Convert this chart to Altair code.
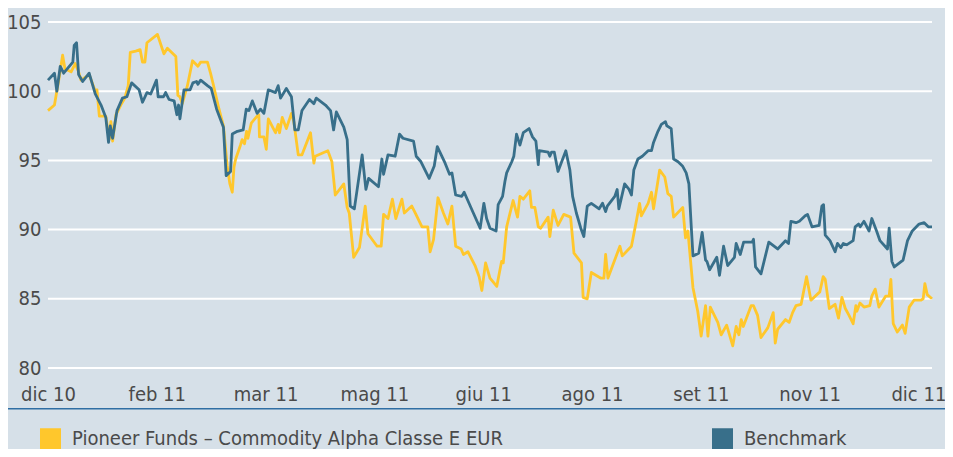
import altair as alt
import pandas as pd

FUND = "Pioneer Funds – Commodity Alpha Classe E EUR"
BENCH = "Benchmark"

month_labels = ["dic 10", "feb 11", "mar 11", "mag 11", "giu 11", "ago 11", "set 11", "nov 11", "dic 11"]
tick_step = 32
y_ticks = [80, 85, 90, 95, 100, 105]
x_start, x_end = 0, 260

bench_x = [0, 1.9, 2.6, 3.6, 4.6, 7.3, 7.7, 8.4, 9.0, 10.2, 12.1, 13.9, 15.6, 17.0, 17.8, 18.3, 19.0, 20.3, 21.9, 23.2,
           24.6, 26.8, 27.8, 29.1, 30.2, 31.9, 32.4, 34.0, 34.6, 35.6, 37.1, 37.9, 38.4, 38.8, 40.0, 41.8, 42.6, 43.7, 44.1, 44.9,
           46.9, 48.0, 49.6, 51.6, 52.4, 53.7, 54.2, 55.7, 57.4, 58.3, 59.1, 60.1, 61.5, 62.5, 63.5, 64.8, 66.9, 67.7, 68.4, 70.1,
           71.6, 72.6, 73.6, 74.7, 76.9, 78.2, 78.9, 81.6, 83.1, 84.0, 84.8, 87.0, 88.0, 88.9, 90.1, 92.4, 93.5, 94.3, 97.2, 98.2,
           98.7, 100.0, 102.1, 103.4, 104.4, 107.5, 108.3, 109.7, 112.1, 113.6, 114.5, 116.8, 118.1, 118.8, 119.9, 121.7, 122.4, 125.1, 127.1, 128.2,
           129.0, 130.0, 131.8, 132.4, 133.7, 134.4, 134.9, 136.4, 137.0, 137.8, 138.8, 139.8, 141.5, 142.5, 143.5, 144.2, 144.5, 147.1, 147.6, 148.1,
           148.9, 150.0, 152.3, 153.5, 154.3, 155.4, 156.7, 157.6, 158.6, 159.8, 162.1, 163.1, 164.0, 164.5, 166.7, 167.4, 167.9, 169.6, 170.9, 171.6,
           172.3, 173.5, 174.8, 176.5, 177.5, 178.1, 179.4, 180.4, 181.6, 182.0, 183.3, 184.0, 185.3, 186.6, 187.7, 188.5, 189.2, 189.7, 191.4, 192.4,
           193.4, 193.8, 194.6, 196.7, 197.5, 198.7, 199.9, 201.9, 202.4, 203.6, 204.6, 207.1, 207.5, 208.1, 209.7, 212.0, 214.6, 216.9, 217.8, 218.5,
           220.0, 221.0, 222.7, 223.4, 224.7, 226.8, 227.6, 228.1, 228.6, 230.0, 231.5, 232.2, 233.2, 233.9, 234.9, 236.8, 237.4, 238.4, 238.9, 240.0,
           241.5, 242.3, 243.7, 244.7, 246.9, 247.4, 248.2, 248.9, 251.5, 252.8, 254.2, 256.2, 257.7, 258.9, 260.0]
bench_y = [100.8, 101.3, 100.0, 101.8, 101.3, 102.1, 103.3, 103.5, 101.2, 100.7, 101.3, 99.8, 99.0, 98.1, 96.3, 97.5, 96.6, 98.6, 99.5, 99.6,
           100.6, 100.1, 99.2, 99.9, 99.8, 100.8, 99.6, 99.6, 99.9, 99.4, 99.3, 98.3, 99.0, 98.0, 100.1, 100.1, 100.6, 100.7, 100.5, 100.8,
           100.4, 100.2, 98.7, 97.4, 93.9, 94.2, 96.9, 97.1, 97.2, 98.7, 98.6, 99.3, 98.4, 98.7, 98.4, 100.1, 99.9, 100.4, 99.5, 100.2,
           99.6, 97.2, 97.2, 98.6, 99.4, 99.1, 99.5, 99.0, 98.6, 97.2, 98.5, 97.4, 96.5, 91.7, 91.5, 95.4, 92.9, 93.7, 93.1, 95.1,
           94.0, 95.4, 95.3, 96.9, 96.6, 96.4, 95.3, 94.9, 93.7, 94.6, 96.0, 94.8, 94.0, 94.1, 92.5, 92.4, 92.7, 91.2, 90.1, 91.9,
           90.8, 90.1, 89.9, 91.8, 92.4, 93.5, 94.1, 94.9, 95.3, 96.9, 96.1, 97.0, 97.3, 96.7, 96.4, 94.7, 95.7, 95.6, 95.3, 95.6,
           95.6, 94.2, 95.7, 94.3, 92.4, 91.2, 90.1, 89.5, 91.7, 91.9, 91.5, 91.9, 91.3, 91.7, 92.4, 92.9, 91.5, 93.3, 92.9, 92.5,
           94.3, 95.1, 95.3, 95.7, 95.7, 96.3, 97.1, 97.6, 97.8, 97.5, 97.3, 95.1, 94.9, 94.6, 94.1, 93.3, 90.2, 88.1, 88.3, 89.8,
           87.8, 87.7, 87.1, 88.0, 86.7, 88.8, 87.4, 88.0, 89.0, 88.2, 89.1, 89.1, 89.3, 87.3, 86.8, 89.1, 88.6, 89.2, 89.0, 90.6,
           90.5, 90.6, 91.0, 91.1, 90.2, 90.3, 91.7, 91.8, 89.6, 89.2, 88.4, 89.0, 88.7, 89.0, 88.9, 89.2, 90.2, 90.4, 90.2, 90.6,
           89.9, 90.8, 89.9, 89.2, 88.6, 90.1, 87.7, 87.3, 87.8, 89.2, 89.9, 90.4, 90.5, 90.2, 90.2]

fund_x = [0, 1.9, 3.3, 4.3, 5.0, 6.8, 8.0, 9.0, 9.7, 12.1, 13.9, 14.4, 15.1, 17.0, 18.0, 18.5, 19.0, 20.0, 21.4, 22.6,
          23.6, 24.2, 25.8, 27.1, 27.8, 28.5, 29.1, 32.2, 34.1, 35.1, 37.6, 38.2, 38.8, 39.5, 41.0, 42.5, 44.1, 44.9, 46.9, 47.8,
          48.6, 50.3, 51.6, 52.7, 53.5, 54.2, 54.7, 55.2, 56.6, 57.1, 57.8, 58.4, 58.8, 59.8, 61.5, 62.0, 62.2, 63.5, 64.2, 64.8,
          66.9, 67.7, 68.1, 68.9, 70.1, 71.6, 72.3, 73.6, 74.7, 77.2, 78.2, 78.6, 82.3, 83.5, 84.5, 87.0, 88.0, 88.6, 89.9, 91.6,
          93.3, 94.1, 96.8, 98.0, 98.7, 100.0, 101.3, 102.3, 104.1, 104.8, 107.0, 108.0, 110.0, 111.7, 112.4, 113.4, 114.7, 116.3, 117.6, 118.8,
          119.9, 121.5, 122.2, 123.5, 125.6, 126.8, 127.6, 128.7, 130.0, 132.0, 133.4, 133.9, 134.9, 136.8, 138.1, 138.8, 139.8, 141.7, 142.2, 143.2,
          144.2, 144.9, 147.1, 147.6, 148.6, 150.0, 151.7, 153.7, 154.7, 156.9, 157.4, 158.6, 159.8, 162.5, 163.5, 164.0, 164.7, 168.2, 168.9, 171.6,
          173.1, 174.0, 174.5, 176.5, 177.5, 178.1, 179.9, 181.4, 182.3, 183.3, 184.0, 186.7, 187.5, 188.2, 189.7, 191.1, 192.1, 193.4, 194.1, 194.8,
          197.0, 198.0, 199.6, 201.4, 202.4, 203.2, 203.9, 204.5, 206.8, 207.5, 208.7, 209.7, 211.7, 213.3, 213.9, 214.6, 216.9, 218.0, 219.0, 220.0,
          221.5, 223.1, 224.4, 227.0, 228.0, 228.6, 229.8, 231.5, 232.5, 233.5, 234.5, 235.6, 236.8, 237.6, 237.9, 238.8, 240.0, 241.7, 242.3, 243.3,
          244.4, 246.4, 247.4, 247.9, 248.6, 249.8, 251.3, 252.1, 253.3, 254.7, 256.7, 257.4, 257.9, 258.6, 260.0]
fund_y = [98.6, 99.0, 101.0, 102.6, 101.6, 101.4, 102.0, 101.4, 100.8, 101.2, 100.0, 100.1, 98.2, 98.2, 96.5, 97.8, 96.4, 98.3, 99.0, 99.5,
          100.4, 102.8, 102.9, 103.0, 102.1, 102.1, 103.5, 104.1, 102.7, 103.1, 102.5, 99.7, 99.6, 99.1, 100.4, 102.2, 101.8, 102.1, 102.1, 101.3,
          100.5, 98.7, 97.5, 94.6, 93.3, 92.7, 94.5, 95.1, 96.1, 96.5, 96.2, 97.1, 96.6, 97.7, 98.2, 98.3, 96.7, 96.7, 95.8, 98.0,
          97.0, 97.6, 97.0, 98.1, 97.3, 98.4, 97.8, 95.4, 95.4, 97.0, 94.8, 95.3, 95.7, 94.9, 92.5, 93.3, 91.6, 91.2, 88.0, 88.7,
          91.7, 89.7, 88.8, 88.8, 91.1, 90.8, 92.2, 90.8, 92.2, 91.2, 91.7, 91.2, 90.2, 90.2, 88.4, 89.3, 92.3, 91.2, 90.4, 91.7,
          88.8, 88.6, 88.2, 88.4, 87.4, 86.6, 85.6, 87.6, 86.5, 85.9, 87.7, 87.6, 90.2, 92.1, 90.9, 92.4, 92.2, 92.8, 91.6, 91.6,
          90.2, 90.1, 90.9, 89.5, 91.4, 90.3, 91.1, 90.9, 88.3, 87.6, 85.1, 85.0, 86.9, 86.5, 86.5, 88.2, 86.5, 88.8, 88.1, 88.8,
          90.7, 91.9, 91.0, 91.9, 92.7, 91.5, 94.3, 93.8, 92.6, 92.4, 90.9, 91.6, 89.4, 89.9, 85.8, 84.1, 82.3, 84.5, 82.3, 84.4,
          83.3, 82.4, 83.1, 81.6, 83.0, 82.4, 83.5, 83.0, 84.5, 84.5, 83.8, 82.2, 82.9, 84.0, 81.8, 82.8, 83.5, 83.3, 84.0, 84.5,
          84.6, 86.6, 84.9, 85.5, 86.6, 86.4, 84.3, 84.6, 83.6, 85.1, 84.3, 83.8, 83.2, 84.5, 84.1, 84.7, 84.4, 84.5, 85.2, 85.7,
          84.4, 85.2, 85.2, 86.4, 83.2, 82.6, 83.1, 82.5, 84.4, 84.9, 84.9, 85.0, 86.1, 85.3, 85.0]

BG = "#D6E0E8"
YELLOW = "#FFC72C"
BLUE = "#386F8A"
TEXT = "#4A4A4A"
FONT = "Liberation Sans Narrow, Arial Narrow, DejaVu Sans Condensed, Roboto Condensed, Roboto, sans-serif"
FS = 20
PLOT_W = 884
PLOT_H = 346

fund_df = pd.DataFrame({"t": fund_x, "v": fund_y, "s": FUND})
bench_df = pd.DataFrame({"t": bench_x, "v": bench_y, "s": BENCH})
grid_df = pd.DataFrame({"t": [x_start, x_end] * len(y_ticks),
                        "v": [v for v in y_ticks for _ in (0, 1)]})

label_expr = "[" + ",".join(f"'{m}'" for m in month_labels) + "][round(datum.value/%d)]" % tick_step
x_ticks = [i * tick_step for i in range(len(month_labels))]

x_scale = alt.Scale(domain=[x_start, x_end], nice=False, zero=False)
y_scale = alt.Scale(domain=[80, 105], nice=False, zero=False)

x_axis = alt.Axis(values=x_ticks, labelExpr=label_expr, grid=False, ticks=False, domain=False,
                  labelPadding=16, labelFontSize=FS, labelFont=FONT, labelColor=TEXT,
                  labelBaseline="top", labelFlush=False, title=None)
y_axis = alt.Axis(values=y_ticks, grid=False, ticks=False, domain=False, labelPadding=7,
                  labelFontSize=FS, labelFont=FONT, labelColor=TEXT, title=None)

x_enc = alt.X("t:Q", scale=x_scale, axis=x_axis)
y_enc = alt.Y("v:Q", scale=y_scale, axis=y_axis)
color_enc = alt.Color("s:N", scale=alt.Scale(domain=[FUND, BENCH], range=[YELLOW, BLUE]),
                      legend=alt.Legend(orient="none", legendX=-8, legendY=406, direction="horizontal",
                                        title=None, symbolType="square", symbolSize=4, symbolStrokeWidth=19,
                                        symbolOpacity=1, labelFont=FONT, labelFontSize=FS, labelColor=TEXT,
                                        labelOffset=11, columnPadding=180, padding=0, labelLimit=700))

grid = alt.Chart(grid_df).mark_line(color="white", strokeWidth=2).encode(
    x=x_enc, y=y_enc, detail="v:N")

fund_line = alt.Chart(fund_df).mark_line(strokeWidth=2.8, strokeJoin="round").encode(x=x_enc, y=y_enc, color=color_enc)
bench_line = alt.Chart(bench_df).mark_line(strokeWidth=2.8, strokeJoin="round").encode(x=x_enc, y=y_enc, color=color_enc)

sep = alt.Chart(pd.DataFrame({"k": [0]})).mark_rule(color="#2F6EA3", strokeWidth=1.5).encode(
    x=alt.value(-40), x2=alt.value(900), y=alt.value(386.7))

chart = alt.layer(grid, fund_line, bench_line, sep).properties(
    width=PLOT_W, height=PLOT_H,
    autosize=alt.AutoSizeParams(type="none"),
    padding={"left": 40, "top": 14, "right": 13, "bottom": 81},
    background=BG,
).configure_view(stroke=None).configure_axis(grid=False)

chart.save("out.html", embed_options={"renderer": "svg", "actions": False})
